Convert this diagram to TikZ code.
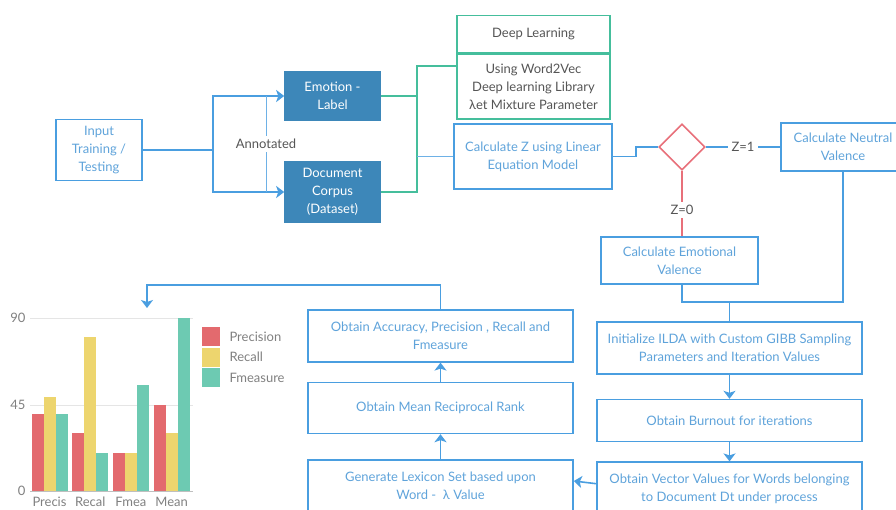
\documentclass[tikz,border=0pt]{standalone}
\usepackage{fontspec}
\setmainfont{Lato}
\usepackage{tikz}
\usetikzlibrary{shapes,arrows.meta,positioning}

\definecolor{boxblue}{HTML}{4A9EE0}
\definecolor{txtblue}{HTML}{5FA3DA}
\definecolor{darkblue}{HTML}{3D87B9}
\definecolor{grnline}{HTML}{45BE9C}
\definecolor{redline}{HTML}{E8707A}
\definecolor{txtgray}{HTML}{555555}
\definecolor{barred}{HTML}{E36A6E}
\definecolor{baryel}{HTML}{EDD56E}
\definecolor{bargrn}{HTML}{6DCAB2}

\begin{document}
\begin{tikzpicture}[x=1pt, y=-1pt, node distance=20pt,
    box/.style={rectangle, draw=boxblue, line width=1.6pt, text=txtblue, align=center, font=\fontsize{13}{18}\selectfont, inner sep=2pt},
    wide/.style={box, minimum width=265pt},
    dark/.style={box, fill=darkblue, draw=darkblue, text=white},
    grnbox/.style={box, draw=grnline, text=txtgray},
    dec/.style={diamond, draw=redline, line width=1.6pt, minimum size=46pt, inner sep=0pt},
    bl/.style={draw=boxblue, line width=1.6pt},
    ar/.style={bl, ->, >={Stealth[length=8pt, width=12pt, inset=2pt]}},
    lbl/.style={text=txtgray, font=\fontsize{13}{15}\selectfont},
    tick/.style={text=gray, font=\fontsize{13}{15}\selectfont}]
    \useasboundingbox (0,0) rectangle (896,509);

    % top row
    \node [box, minimum width=86pt, minimum height=61pt] (inp) at (99,150) {Input\\Training /\\Testing};
    \node [dark, minimum width=95pt, minimum height=48pt] (emo) at (332.5,96) {Emotion -\\Label};
    \node [dark, minimum width=95pt, minimum height=60pt] (doc) at (332.5,192) {Document\\Corpus\\(Dataset)};
    \node [grnbox, minimum width=153pt, minimum height=37pt] (dlh) at (533.5,34) {Deep Learning};
    \node [grnbox, minimum width=153pt, minimum height=65pt, below=0pt of dlh] (dlb) {Using Word2Vec\\Deep learning Library\\λet Mixture Parameter};
    \node [box, minimum width=158pt, minimum height=65pt] (calz) at (533,156.5) {Calculate Z using Linear\\Equation Model};
    \node [dec] (dia) at (682,147) {};
    \node [box, minimum width=124pt, minimum height=48pt] (neu) at (843,147) {Calculate Neutral\\Valence};
    \node [box, minimum width=157pt, minimum height=47pt] (emv) at (679.5,260.5) {Calculate Emotional\\Valence};

    % right column
    \node [wide, minimum height=52pt] (ilda) at (729.5,348) {Initialize ILDA with Custom GIBB Sampling\\Parameters and Iteration Values};
    \node [wide, minimum height=42pt, below=24pt of ilda] (burn) {Obtain Burnout for iterations};
    \node [wide, minimum height=53pt, below=19pt of burn] (vec) {Obtain Vector Values for Words belonging\\to Document Dt under process};

    % middle column
    \node [wide, minimum height=52pt] (lex) at (440.5,486) {Generate Lexicon Set based upon\\Word -~ λ Value};
    \node [wide, minimum height=51pt, above=25pt of lex] (mrr) {Obtain Mean Reciprocal Rank};
    \node [wide, minimum height=52pt, above=19pt of mrr] (acc) {Obtain Accuracy, Precision , Recall and\\Fmeasure};

    \coordinate (split) at (213,150);
    \coordinate (an1) at (266,96);
    \coordinate (an2) at (266,192);
    \coordinate (gtop) at (417,66);
    \coordinate (mrg) at (729.5,302);
    \coordinate (chtop) at (147,308);

    % connectors
    \draw [bl] (inp) -- (split);
    \draw [ar] (split) |- (emo.west);
    \draw [ar] (split) |- (doc.west);
    \draw [draw=boxblue!80, line width=1pt] (an1) -- node[fill=white, lbl, inner sep=3pt] (ann) {Annotated} (an2);
    \draw [draw=grnline, line width=1.6pt] (emo.east) -| (gtop) -- (gtop -| dlb.west);
    \draw [draw=grnline, line width=1.6pt] (doc.east) -| (gtop);
    \draw [draw=boxblue!80, line width=1pt] (gtop |- calz.west) -- (calz.west);
    \draw [bl] (calz.east) -- ++(23,0) |- (dia.west);
    \draw [bl] (dia.east) -- node[fill=white, lbl, inner sep=4pt] (z1) {Z=1} (neu.west);
    \draw [draw=redline, line width=1.6pt] (dia.south) -- node[pos=0.6, fill=white, lbl, inner sep=3pt] (z0) {Z=0} (dia.south |- emv.north);
    \draw [bl] (neu.south) |- (mrg);
    \draw [bl] (dia.south |- emv.south) |- (mrg);
    \draw [bl] (mrg) -- (ilda.north);
    \draw [ar] (ilda) -- (burn);
    \draw [ar] (burn) -- (vec);
    \draw [ar] ([yshift=5pt]vec.west) -- ([yshift=5pt]lex.east);
    \draw [ar] (lex) -- (mrr);
    \draw [ar] (mrr) -- (acc);
    \draw [ar] (acc.north) -- ++(0,-24) -| (chtop);

    % bar chart
    \draw [black!10, line width=1pt] (30,318) -- (193,318);
    \draw [black!10, line width=1pt] (30,405) -- (193,405);
    \draw [black!25, line width=1pt] (30,491) -- (193,491);
    \node [tick, anchor=east] (t90) at (29,318) {90};
    \node [tick, anchor=east] (t45) at (29,405) {45};
    \node [tick, anchor=east] (t0) at (29,491) {0};
    \foreach \lab/\p/\r/\f [count=\i from 0] in {Precis/40/49/40, Recal/30/80/20, Fmea/20/20/55, Mean/45/30/90} {
        \pgfmathsetmacro\bx{31.5+40.7*\i}
        \fill [barred] (\bx,491) rectangle ++(12,{-\p*1.922});
        \fill [baryel] ({\bx+12},491) rectangle ++(12,{-\r*1.922});
        \fill [bargrn] ({\bx+24},491) rectangle ++(12,{-\f*1.922});
        \node [tick] (g\i) at ({\bx+18},502) {\lab};
    }
    \foreach \c/\t [count=\j from 0] in {barred/Precision, baryel/Recall, bargrn/Fmeasure} {
        \fill [\c] (202,{327+20.5*\j}) rectangle ++(18,19);
        \node [tick, anchor=west] (l\j) at (226,{336.5+20.5*\j}) {\t};
    }
\end{tikzpicture}
\end{document}
